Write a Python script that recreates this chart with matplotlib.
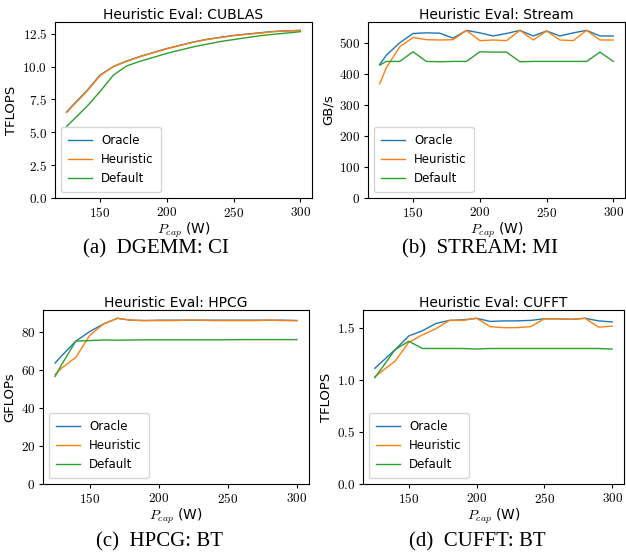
import matplotlib
matplotlib.use("Agg")
import matplotlib.pyplot as plt
from matplotlib.ticker import FuncFormatter, MultipleLocator

plt.rcParams['mathtext.fontset'] = 'cm'

# power caps (W)
pcap = [125, 130, 140, 150, 160, 170, 180, 190, 200, 210,
        220, 230, 240, 250, 260, 270, 280, 290, 300]

# (a) DGEMM / CUBLAS, TFLOPS
cublas_oracle = [6.55, 7.1, 8.15, 9.35, 10.0, 10.42, 10.77, 11.07, 11.37, 11.62,
                 11.87, 12.07, 12.22, 12.37, 12.47, 12.57, 12.67, 12.72, 12.75]
cublas_heur = [6.5, 7.05, 8.1, 9.3, 10.0, 10.4, 10.75, 11.05, 11.35, 11.6,
               11.85, 12.05, 12.2, 12.35, 12.45, 12.55, 12.65, 12.7, 12.75]
cublas_def = [5.45, 5.95, 6.95, 8.1, 9.35, 10.05, 10.4, 10.7, 11.0, 11.25,
              11.5, 11.7, 11.9, 12.05, 12.2, 12.35, 12.45, 12.55, 12.65]

# (b) STREAM, GB/s
stream_oracle = [430, 460, 500, 530, 532, 531, 515, 540, 532, 522,
                 530, 540, 522, 538, 522, 532, 540, 522, 522]
stream_heur = [368, 420, 487, 517, 510, 509, 510, 540, 507, 509,
               507, 540, 509, 538, 509, 507, 540, 509, 509]
stream_def = [428, 440, 440, 471, 440, 439, 440, 440, 471, 470,
              470, 439, 440, 440, 440, 440, 440, 470, 440]

# (c) HPCG, GFLOPs
hpcg_oracle = [63.5, 67.5, 75, 80, 84, 87, 86, 85.8, 86, 86,
               86, 86, 86, 86, 86, 86, 86, 86, 85.8]
hpcg_heur = [57.5, 61, 66.5, 78, 84, 87, 86, 85.8, 85.8, 85.8,
             86, 86, 85.8, 85.8, 85.8, 85.8, 86, 85.8, 85.8]
hpcg_def = [56.5, 63, 75, 75.3, 75.6, 75.5, 75.6, 75.7, 75.7, 75.7,
            75.7, 75.7, 75.7, 75.7, 75.8, 75.8, 75.8, 75.8, 75.8]

# (d) CUFFT, TFLOPS
cufft_oracle = [1.11, 1.17, 1.29, 1.42, 1.47, 1.54, 1.57, 1.575, 1.59, 1.56,
                1.565, 1.565, 1.57, 1.585, 1.585, 1.58, 1.59, 1.565, 1.555]
cufft_heur = [1.03, 1.08, 1.18, 1.36, 1.43, 1.49, 1.57, 1.57, 1.59, 1.51,
              1.50, 1.50, 1.51, 1.585, 1.585, 1.58, 1.59, 1.505, 1.515]
cufft_def = [1.02, 1.11, 1.29, 1.37, 1.30, 1.30, 1.30, 1.30, 1.295, 1.30,
             1.30, 1.30, 1.30, 1.30, 1.30, 1.30, 1.30, 1.30, 1.295]

panels = [
    ("CUBLAS", "TFLOPS", cublas_oracle, cublas_heur, cublas_def, "(a)  DGEMM: CI", "{:.1f}", 2.5),
    ("Stream", "GB/s", stream_oracle, stream_heur, stream_def, "(b)  STREAM: MI", "{:.0f}", 100),
    ("HPCG", "GFLOPs", hpcg_oracle, hpcg_heur, hpcg_def, "(c)  HPCG: BT", "{:.0f}", 20),
    ("CUFFT", "TFLOPS", cufft_oracle, cufft_heur, cufft_def, "(d)  CUFFT: BT", "{:.1f}", 0.5),
]

# axes rectangles in figure fraction, and caption positions
rects = [
    [55 / 626, 1 - 198 / 557, 257 / 626, 176 / 557],
    [368 / 626, 1 - 198 / 557, 257 / 626, 176 / 557],
    [43 / 626, 1 - 484 / 557, 266 / 626, 174 / 557],
    [363 / 626, 1 - 484 / 557, 261 / 626, 174 / 557],
]
captions = [(156 / 626, 1 - 249 / 557), (480 / 626, 1 - 249 / 557),
            (160 / 626, 1 - 542 / 557), (477 / 626, 1 - 542 / 557)]

fig = plt.figure(figsize=(6.26, 5.57), dpi=100)

for (name, ylab, o, h, d, cap, fmt, step), rect, (cx, cy) in zip(panels, rects, captions):
    ax = fig.add_axes(rect)
    ax.plot(pcap, o, color='tab:blue', lw=1, label='Oracle')
    ax.plot(pcap, h, color='tab:orange', lw=1, label='Heuristic')
    ax.plot(pcap, d, color='tab:green', lw=1, label='Default')
    ax.set_ylim(0, 1.05 * max(o + h + d))
    ax.yaxis.set_major_locator(MultipleLocator(step))
    ax.set_xticks([150, 200, 250, 300])
    ax.xaxis.set_major_formatter(FuncFormatter(lambda v, p: "$%d$" % v))
    ax.yaxis.set_major_formatter(FuncFormatter(lambda v, p, f=fmt: "$" + f.format(v) + "$"))
    ax.tick_params(labelsize=9.5, length=3, pad=2.5)
    ax.set_title("Heuristic Eval: " + name, fontsize=10, pad=2)
    ax.set_ylabel(ylab, fontsize=9.5, labelpad=3)
    ax.set_xlabel("$P_{cap}$ (W)", fontsize=10, labelpad=1)
    ax.legend(loc='lower left', fontsize=8.5, handlelength=2.0, borderpad=0.6,
              labelspacing=0.5)
    fig.text(cx, cy, cap, ha='center', va='center', fontsize=15,
             family='Liberation Serif')

plt.savefig('out.png', dpi=100)
